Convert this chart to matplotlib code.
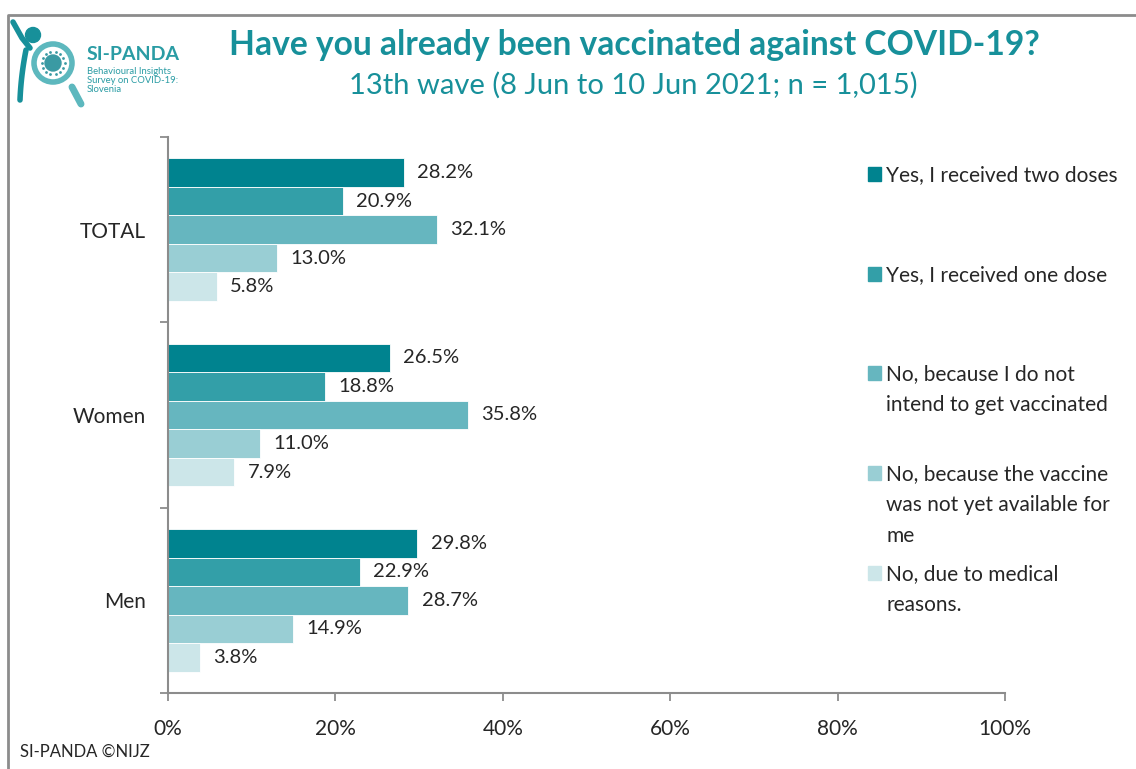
import numpy as np
import matplotlib
matplotlib.use("Agg")
import matplotlib.pyplot as plt
from matplotlib.patches import Rectangle, Circle

plt.rcParams['font.family'] = ['Lato', 'DejaVu Sans']

groups = ['TOTAL', 'Women', 'Men']
answers = ['Yes, I received two doses',
           'Yes, I received one dose',
           'No, because I do not\nintend to get vaccinated',
           'No, because the vaccine\nwas not yet available for\nme',
           'No, due to medical\nreasons.']
two_doses = [28.2, 26.5, 29.8]
one_dose = [20.9, 18.8, 22.9]
not_intend = [32.1, 35.8, 28.7]
not_available = [13.0, 11.0, 14.9]
medical = [5.8, 7.9, 3.8]
series = [two_doses, one_dose, not_intend, not_available, medical]
colors = ['#00838F', '#339FA8', '#66B6BF', '#99CED4', '#CCE6E9']

teal = '#17909A'
logo_teal = '#2A9CA4'
txt = '#262626'
grey = '#8C8C8C'

W, H = 1136, 769
fig = plt.figure(figsize=(W / 100, H / 100), dpi=100)

# overlay in pixel coordinates for logo, legend and frame
ov = fig.add_axes([0, 0, 1, 1], zorder=0)
ov.set_xlim(0, W)
ov.set_ylim(H, 0)
ov.axis('off')

ax = fig.add_axes([168 / W, 1 - 693 / H, (1005 - 168) / W, (693 - 137) / H], zorder=1)
ax.patch.set_alpha(0)

bh = 0.154
centers = np.array([2.5, 1.5, 0.5])
for i, (vals, c) in enumerate(zip(series, colors)):
    y = centers + (2 - i) * bh
    ax.barh(y, vals, height=bh, color=c, edgecolor='white', linewidth=0.6)
    for yy, v in zip(y, vals):
        ax.text(v + 1.6, yy, f'{v:.1f}%', va='center', ha='left',
                fontsize=14.5, color=txt)

ax.set_xlim(0, 100)
ax.set_ylim(0, 3)
ax.set_xticks(np.arange(0, 101, 20))
ax.set_xticklabels([f'{t}%' for t in range(0, 101, 20)])
ax.set_yticks(centers)
ax.set_yticklabels(groups)
ax.set_yticks([0, 1, 2, 3], minor=True)
ax.tick_params(axis='y', which='major', length=0, pad=16, labelsize=15,
               labelcolor=txt)
ax.tick_params(axis='y', which='minor', length=6, width=1.3, color=grey)
ax.tick_params(axis='x', length=6, width=1.3, color=grey, pad=13,
               labelsize=15, labelcolor=txt)
for s in ['top', 'right']:
    ax.spines[s].set_visible(False)
for s in ['left', 'bottom']:
    ax.spines[s].set_color(grey)
    ax.spines[s].set_linewidth(1.5)

# titles
ov.text(634, 45, 'Have you already been vaccinated against COVID-19?',
        ha='center', va='center', fontsize=24.2, fontweight='bold', color=teal)
ov.text(633, 85, '13th wave (8 Jun to 10 Jun 2021; n = 1,015)',
        ha='center', va='center', fontsize=21, color=teal)

# legend
leg_y = [174, 274, 373, 473, 573]
for lab, c, yp in zip(answers, colors, leg_y):
    ov.add_patch(Rectangle((868, yp - 7), 13, 14, color=c))
    ov.text(886, yp - 9, lab, ha='left', va='top', fontsize=15,
            color=txt, linespacing=1.7)

# logo: figure, magnifying glass and virus
ov.plot([13, 22, 30], [22, 38, 48], color=teal, lw=4, solid_capstyle='round')
ov.add_patch(Circle((33, 35), 7.5, color=teal))
t = np.linspace(0, 1, 30)
ov.plot(26 - 10 * t + 4 * t ** 2, 50 + 50 * t, color=teal, lw=4,
        solid_capstyle='round')
ov.plot([72, 81], [87, 104], color='#5DB8BE', lw=5, solid_capstyle='round')
ov.add_patch(Circle((53, 63), 19, fill=False, edgecolor='#5DB8BE', lw=4))
ov.add_patch(Circle((53, 63), 8, color='#3A9AA3'))
ang = np.linspace(0, 2 * np.pi, 14, endpoint=False)
ov.scatter(53 + 11.5 * np.cos(ang), 63 + 11.5 * np.sin(ang), s=4,
           color='#3A9AA3', lw=0)
ov.text(87, 55, 'SI-PANDA', ha='left', va='center',
        fontsize=14, fontweight='bold', color=logo_teal)
ov.text(87, 67, 'Behavioural Insights\nSurvey on COVID-19:\nSlovenia', ha='left',
        va='top', fontsize=6.8, color=logo_teal, linespacing=1.0)

# footer
ov.text(20, 752, 'SI-PANDA ©NIJZ', ha='left', va='center',
        fontsize=12, color=txt)

# chart frame
ov.plot([8, 8, W + 5], [H + 5, 15, 15], color=grey, lw=2, clip_on=False)

fig.savefig('out.png', dpi=100)
